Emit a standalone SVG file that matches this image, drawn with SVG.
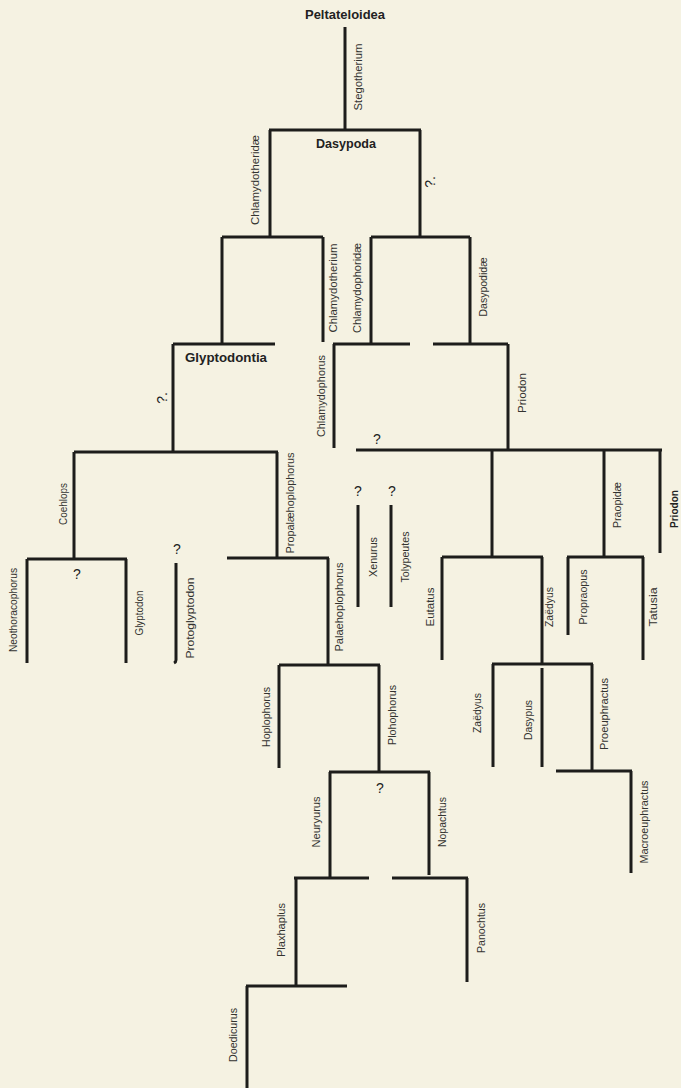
<svg xmlns="http://www.w3.org/2000/svg" width="681" height="1088" viewBox="0 0 681 1088">
<style>
.bg{fill:#f5f2e2}
.ln{stroke:#1d1d1b;stroke-width:3;fill:none;stroke-linecap:butt}
.lb{font-family:"Liberation Sans","DejaVu Sans",sans-serif;font-size:11.5px;fill:#333330;text-anchor:middle}
.bd{font-family:"Liberation Sans","DejaVu Sans",sans-serif;font-size:13px;font-weight:bold;fill:#222;text-anchor:middle}
.q{font-family:"Liberation Sans","DejaVu Sans",sans-serif;font-size:14px;fill:#222;text-anchor:middle}
</style>
<rect class="bg" x="0" y="0" width="681" height="1088"/>
<g id="connectors">
<path class="ln" d="M345,27V130 M269,130H421 M270,130V237 M420,130V237"/>
<path class="ln" d="M222,237H323 M371,237H470 M222,237V344 M323,237V342 M371,237V344 M470,237V344"/>
<path class="ln" d="M173,344H275 M333,344H410 M433,344H508 M173,344V452 M334,344V448 M508,344V450"/>
<path class="ln" d="M74,452H278 M356,450H662 M74,452V559 M277,452V558 M492,450V557 M604,450V557 M660,450V553"/>
<path class="ln" d="M27,559H127 M227,558H329 M442,557H543 M567,557H644"/>
<path class="ln" d="M27,559V663 M126,559V663 M176,563V660 Q176,662 174,663 M328,558V665 M358,505V607 M391,505V607 M442,557V660 M542,557V664 M568,557V635 M643,557V660"/>
<path class="ln" d="M279,665H380 M492,664H593 M279,665V768 M379,665V772 M493,664V767 M542,668V767 M592,664V771"/>
<path class="ln" d="M329,772H430 M556,771H632 M330,772V878 M429,772V875 M631,771V873"/>
<path class="ln" d="M294,878H369 M392,878H468 M296,878V986 M467,878V982 M246,986H347 M247,986V1088"/>
</g>
<g id="peltateloidea"><text class="bd" x="345" y="19" textLength="80" lengthAdjust="spacingAndGlyphs">Peltateloidea</text></g>
<g id="dasypoda"><text class="bd" x="346" y="148" textLength="60" lengthAdjust="spacingAndGlyphs">Dasypoda</text></g>
<g id="glyptodontia"><text class="bd" x="226" y="362" textLength="82" lengthAdjust="spacingAndGlyphs">Glyptodontia</text></g>
<g id="stegotherium"><text class="lb" transform="translate(362,77) rotate(-90)" textLength="67" lengthAdjust="spacingAndGlyphs">Stegotherium</text></g>
<g id="chlamydotheridae"><text class="lb" transform="translate(259,180) rotate(-90)" textLength="90" lengthAdjust="spacingAndGlyphs">Chlamydotheridæ</text></g>
<g id="chlamydotherium"><text class="lb" transform="translate(337,288) rotate(-90)" textLength="89" lengthAdjust="spacingAndGlyphs">Chlamydotherium</text></g>
<g id="chlamydophoridae"><text class="lb" transform="translate(361,288) rotate(-90)" textLength="90" lengthAdjust="spacingAndGlyphs">Chlamydophoridæ</text></g>
<g id="dasypodidae"><text class="lb" transform="translate(487,287) rotate(-90)" textLength="59" lengthAdjust="spacingAndGlyphs">Dasypodidæ</text></g>
<g id="chlamydophorus"><text class="lb" transform="translate(325,396) rotate(-90)" textLength="82" lengthAdjust="spacingAndGlyphs">Chlamydophorus</text></g>
<g id="priodon-1"><text class="lb" transform="translate(526,393) rotate(-90)" textLength="40" lengthAdjust="spacingAndGlyphs">Priodon</text></g>
<g id="coehlops"><text class="lb" transform="translate(67,504) rotate(-90)" textLength="42" lengthAdjust="spacingAndGlyphs">Coehlops</text></g>
<g id="propalaehoplophorus"><text class="lb" transform="translate(294,503) rotate(-90)" textLength="101" lengthAdjust="spacingAndGlyphs">Propalæhoplophorus</text></g>
<g id="xenurus"><text class="lb" transform="translate(377,557) rotate(-90)" textLength="40" lengthAdjust="spacingAndGlyphs">Xenurus</text></g>
<g id="tolypeutes"><text class="lb" transform="translate(409,557) rotate(-90)" textLength="51" lengthAdjust="spacingAndGlyphs">Tolypeutes</text></g>
<g id="praopidae"><text class="lb" transform="translate(621,505) rotate(-90)" textLength="46" lengthAdjust="spacingAndGlyphs">Praopidæ</text></g>
<g id="priodon-2"><text class="lb" style="font-weight:bold;fill:#222" transform="translate(678,509) rotate(-90)" textLength="38" lengthAdjust="spacingAndGlyphs">Priodon</text></g>
<g id="neothoracophorus"><text class="lb" transform="translate(17,610) rotate(-90)" textLength="84" lengthAdjust="spacingAndGlyphs">Neothoracophorus</text></g>
<g id="glyptodon"><text class="lb" transform="translate(143,613) rotate(-90)" textLength="45" lengthAdjust="spacingAndGlyphs">Glyptodon</text></g>
<g id="protoglyptodon"><text class="lb" transform="translate(194,618) rotate(-90)" textLength="81" lengthAdjust="spacingAndGlyphs">Protoglyptodon</text></g>
<g id="palaehoplophorus"><text class="lb" transform="translate(343,607) rotate(-90)" textLength="89" lengthAdjust="spacingAndGlyphs">Palaehoplophorus</text></g>
<g id="eutatus"><text class="lb" transform="translate(434,607) rotate(-90)" textLength="39" lengthAdjust="spacingAndGlyphs">Eutatus</text></g>
<g id="zaedyus-1"><text class="lb" transform="translate(553,607) rotate(-90)" textLength="40" lengthAdjust="spacingAndGlyphs">Zaëdyus</text></g>
<g id="propraopus"><text class="lb" transform="translate(587,597) rotate(-90)" textLength="55" lengthAdjust="spacingAndGlyphs">Propraopus</text></g>
<g id="tatusia"><text class="lb" transform="translate(657,607) rotate(-90)" textLength="39" lengthAdjust="spacingAndGlyphs">Tatusia</text></g>
<g id="hoplophorus"><text class="lb" transform="translate(270,717) rotate(-90)" textLength="60" lengthAdjust="spacingAndGlyphs">Hoplophorus</text></g>
<g id="plohophorus"><text class="lb" transform="translate(396,715) rotate(-90)" textLength="60" lengthAdjust="spacingAndGlyphs">Plohophorus</text></g>
<g id="zaedyus-2"><text class="lb" transform="translate(481,713) rotate(-90)" textLength="40" lengthAdjust="spacingAndGlyphs">Zaëdyus</text></g>
<g id="dasypus"><text class="lb" transform="translate(532,720) rotate(-90)" textLength="40" lengthAdjust="spacingAndGlyphs">Dasypus</text></g>
<g id="proeuphractus"><text class="lb" transform="translate(608,714) rotate(-90)" textLength="72" lengthAdjust="spacingAndGlyphs">Proeuphractus</text></g>
<g id="macroeuphractus"><text class="lb" transform="translate(648,822) rotate(-90)" textLength="83" lengthAdjust="spacingAndGlyphs">Macroeuphractus</text></g>
<g id="neuryurus"><text class="lb" transform="translate(320,822) rotate(-90)" textLength="51" lengthAdjust="spacingAndGlyphs">Neuryurus</text></g>
<g id="nopachtus"><text class="lb" transform="translate(446,822) rotate(-90)" textLength="50" lengthAdjust="spacingAndGlyphs">Nopachtus</text></g>
<g id="plaxhaplus"><text class="lb" transform="translate(285,930) rotate(-90)" textLength="54" lengthAdjust="spacingAndGlyphs">Plaxhaplus</text></g>
<g id="panochtus"><text class="lb" transform="translate(485,928) rotate(-90)" textLength="50" lengthAdjust="spacingAndGlyphs">Panochtus</text></g>
<g id="doedicurus"><text class="lb" transform="translate(237,1035) rotate(-90)" textLength="54" lengthAdjust="spacingAndGlyphs">Doedicurus</text></g>
<g id="q-dasypodidae"><text class="q" transform="translate(435,182) rotate(-90)">?.</text></g>
<g id="q-glyptodontia"><text class="q" transform="translate(167,398) rotate(-90)">?.</text></g>
<g id="q-chlamydophorus"><text class="q" x="377" y="444">?</text></g>
<g id="q-xenurus"><text class="q" x="358" y="496">?</text></g>
<g id="q-tolypeutes"><text class="q" x="392" y="496">?</text></g>
<g id="q-protoglyptodon"><text class="q" x="177" y="554">?</text></g>
<g id="q-glyptodon"><text class="q" x="77" y="579">?</text></g>
<g id="q-neuryurus"><text class="q" x="380" y="793">?</text></g>
</svg>
